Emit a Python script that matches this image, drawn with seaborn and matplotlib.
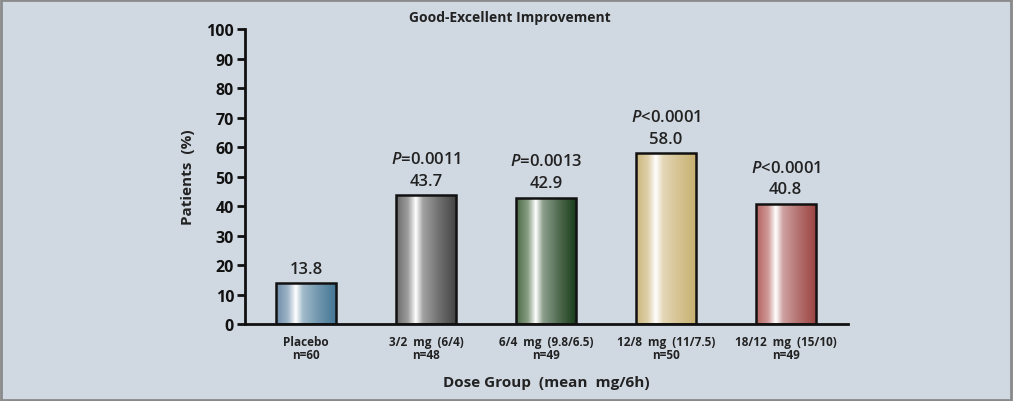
import matplotlib
matplotlib.use("Agg")
import matplotlib.pyplot as plt
import numpy as np
import pandas as pd
import seaborn as sns
from matplotlib.colors import LinearSegmentedColormap, to_rgb
from matplotlib.patches import Rectangle

groups = ["Placebo\nn=60", "3/2  mg  (6/4)\nn=48", "6/4  mg  (9.8/6.5)\nn=49",
          "12/8  mg  (11/7.5)\nn=50", "18/12  mg  (15/10)\nn=49"]
percent = [13.8, 43.7, 42.9, 58.0, 40.8]
p_values = [None, "=0.0011", "=0.0013", "<0.0001", "<0.0001"]
left_colors = ["#6d8daa", "#6a6a6a", "#4a6a44", "#cdb67c", "#b4625f"]
right_colors = ["#437594", "#444444", "#1a3d1a", "#c8b070", "#9c4442"]

bg = "#d0d8e1"
sns.set_theme(style="white")
plt.rcParams["font.family"] = ["Open Sans", "DejaVu Sans"]
plt.rcParams["mathtext.fontset"] = "custom"
plt.rcParams["mathtext.it"] = "Open Sans:italic:semibold"
plt.rcParams["mathtext.rm"] = "Open Sans:semibold"


def mix(c, t):
    # blend colour c toward white by fraction t
    r = np.array(to_rgb(c))
    return tuple(r + (1 - r) * t)


fig = plt.figure(figsize=(10.13, 4.02), dpi=100, facecolor=bg)
ax = fig.add_axes([0.242, 0.191, 0.595, 0.734], facecolor=bg)

df = pd.DataFrame({"group": groups, "percent": percent})
sns.barplot(data=df, x="group", y="percent", hue="group", palette=left_colors,
            width=0.5, edgecolor="#111111", linewidth=1.8, legend=False, ax=ax)

for patch, c0, c1 in zip(ax.patches, left_colors, right_colors):
    x0, y0 = patch.get_x(), patch.get_y()
    w, h = patch.get_width(), patch.get_height()
    stops = [(0, c0), (0.2, mix(c0, 0.35)), (0.33, "#ffffff"),
             (0.45, mix(c1, 0.5)), (0.7, mix(c1, 0.25)), (1, c1)]
    cmap = LinearSegmentedColormap.from_list("g", stops)
    grad = np.linspace(0, 1, 256).reshape(1, -1)
    im = ax.imshow(grad, cmap=cmap, aspect="auto", extent=(x0, x0 + w, y0, y0 + h),
                   zorder=patch.get_zorder() - 0.1, interpolation="bilinear")
    im.set_clip_path(patch)
    patch.set_facecolor("none")

for i, (v, p) in enumerate(zip(percent, p_values)):
    ax.text(i, v + 2.2, f"{v:.1f}", ha="center", va="bottom", fontsize=12,
            fontweight="semibold", color="#222222")
    if p:
        ax.text(i, v + 9.6, f"$P${p}", ha="center", va="bottom", fontsize=12,
                fontweight="semibold", color="#222222")

ax.set_xlim(-0.51, 4.52)
ax.set_ylim(0, 100)
ax.set_yticks(range(0, 101, 10))
ax.tick_params(axis="y", which="major", length=6, width=2, color="#111111",
               labelsize=11.5, pad=2, left=True, labelcolor="#111111")
ax.tick_params(axis="x", length=0, labelsize=8.5, pad=8, labelcolor="#222222")
for lab in ax.get_yticklabels():
    lab.set_fontweight("bold")
for lab in ax.get_xticklabels():
    lab.set_fontweight("bold")
    lab.set_linespacing(1.0)

sns.despine(ax=ax)
for side in ["left", "bottom"]:
    ax.spines[side].set_linewidth(2)
    ax.spines[side].set_color("#111111")

ax.set_xlabel("Dose Group  (mean  mg/6h)", fontsize=11, fontweight="bold",
              color="#222222", labelpad=10)
ax.set_ylabel("Patients  (%)", fontsize=11, fontweight="bold", color="#222222", labelpad=8)
fig.text(0.503, 0.955, "Good-Excellent Improvement", ha="center", va="center",
         fontsize=10, fontweight="bold", color="#222222")

fig.patches.append(Rectangle((0.001, 0.002), 0.997, 0.995, transform=fig.transFigure,
                             fill=False, edgecolor="#8a8a8a", linewidth=2))

fig.savefig("out.png", dpi=100, facecolor=bg)
